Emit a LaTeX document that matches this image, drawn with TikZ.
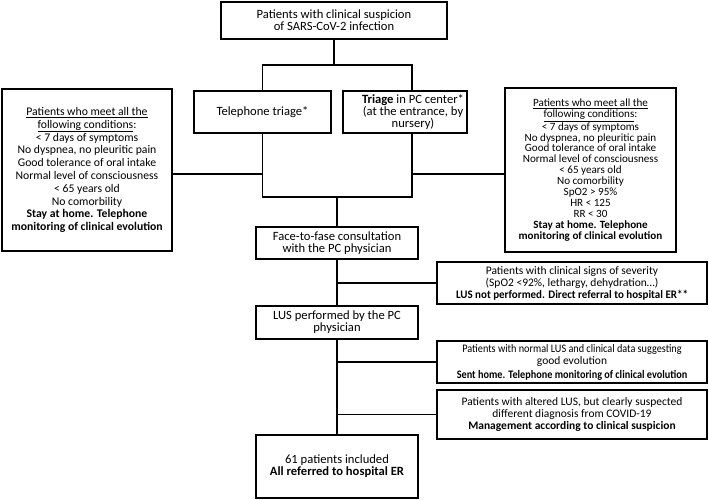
\documentclass[tikz,border=0pt]{standalone}
\usepackage{fontspec}
\setmainfont{Carlito}
\usepackage{graphicx}
\begin{document}
\begin{tikzpicture}[x=1pt,y=-1pt,
 box/.style={draw, line width=1.3pt, inner sep=0pt, align=center, anchor=center},
 conn/.style={line width=1.3pt},
 fmain/.style={font=\fontsize{12.6}{12}\selectfont},
 fleft/.style={font=\fontsize{11.7}{12.8}\selectfont},
 fright/.style={font=\fontsize{11.1}{10.9}\selectfont},
 flow/.style={font=\fontsize{11.5}{12}\selectfont}]
\useasboundingbox (0,0) rectangle (709,500);

\node[box,fmain,minimum width=226pt,minimum height=37pt] (top) at (334,20.5)
  {Patients with clinical suspicion\\of SARS-CoV-2 infection};
\node[box,fmain,minimum width=137pt,minimum height=42pt] (tel) at (262.5,112)
  {Telephone triage*};
\node[box,minimum width=124pt,minimum height=42pt,
  label={[fmain,align=center,xshift=8pt]center:{\textbf{Triage} in PC center*\\(at the entrance, by\\nursery)}}] (tri) at (405,112) {};

\node[box,fleft,minimum width=170pt,minimum height=162pt] (left) at (87,170)
  {\underline{Patients who meet all the}\\\underline{following conditions}:\\< 7 days of symptoms\\No dyspnea, no pleuritic pain\\Good tolerance of oral intake\\Normal level of consciousness\\< 65 years old\\No comorbility\\\textbf{Stay at home. Telephone}\\\textbf{monitoring of clinical evolution}};
\node[box,fright,minimum width=171pt,minimum height=164pt] (right) at (590.5,170)
  {\underline{Patients who meet all the}\\\underline{following conditions}:\\< 7 days of symptoms\\No dyspnea, no pleuritic pain\\Good tolerance of oral intake\\Normal level of consciousness\\< 65 years old\\No comorbility\\SpO2 > 95\%\\HR < 125\\RR < 30\\\textbf{Stay at home. Telephone}\\\textbf{monitoring of clinical evolution}};

\node[box,fmain,minimum width=162pt,minimum height=32pt] (face) at (337,243)
  {Face-to-fase consultation\\with the PC physician};
\node[box,flow,minimum width=270pt,minimum height=42pt] (sev) at (572,283)
  {Patients with clinical signs of severity\\(SpO2 <92\%, lethargy, dehydration…)\\\scalebox{0.955}[1]{\textbf{LUS not performed. Direct referral to hospital ER**}}};
\node[box,fmain,minimum width=162pt,minimum height=33pt] (lus) at (337,322.5)
  {LUS performed by the PC\\physician};
\node[box,flow,minimum width=270pt,minimum height=42pt] (norm) at (572,362)
  {\scalebox{0.89}[1]{Patients with normal LUS and clinical data suggesting}\\good evolution\\[2pt]\scalebox{0.89}[1]{\textbf{Sent home. Telephone monitoring of clinical evolution}}};
\node[box,flow,minimum width=270pt,minimum height=49pt] (alt) at (572,414.5)
  {Patients with altered LUS, but clearly suspected\\different diagnosis from COVID-19\\\textbf{Management according to clinical suspicion}};
\node[box,fmain,minimum width=162pt,minimum height=63pt] (n61) at (337,466.5)
  {61 patients included\\\textbf{All referred to hospital ER}};

\coordinate (j1) at (334,65);
\coordinate (j2) at (337,197);
\coordinate (trit) at ([xshift=7pt]tri.north);
\coordinate (trib) at ([xshift=7pt]tri.south);

\draw[conn] (top.south) -- (j1);
\draw[conn] (tel.north) -- (tel.north |- j1) -- (trit |- j1) -- (trit);
\draw[conn] (tel.south) -- (tel.south |- j2) -- (trib |- j2) -- (trib);
\draw[conn] (j2) -- (face.north);
\draw[conn] ([yshift=-4pt]left.east) -- ([yshift=-4pt]left.east -| tel.south);
\draw[conn] ([yshift=-4pt]right.west) -- ([yshift=-4pt]right.west -| trib);
\draw[conn] (face.south) -- (lus.north);
\draw[conn] (face.south |- sev.west) -- (sev.west);
\draw[conn] (lus.south) -- (n61.north);
\draw[conn] (lus.south |- norm.west) -- (norm.west);
\draw[conn] (lus.south |- alt.west) -- (alt.west);
\end{tikzpicture}
\end{document}
